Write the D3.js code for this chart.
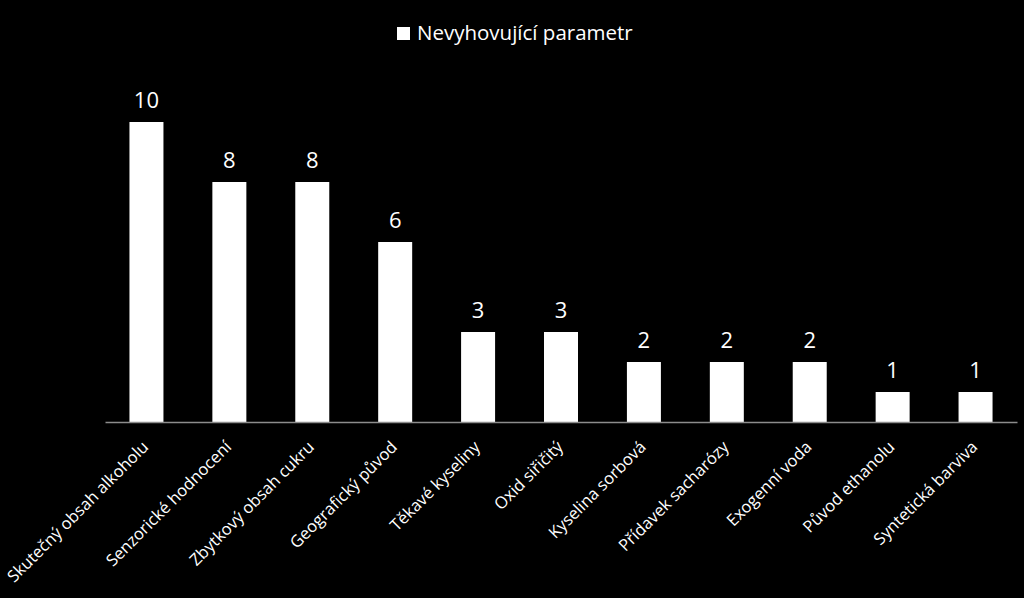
<!DOCTYPE html>
<html><head><meta charset="utf-8">
<script src="https://cdn.jsdelivr.net/npm/d3@7"></script>
<style>html,body{margin:0;padding:0;background:#000;}svg{display:block;}</style>
</head><body>
<svg id="c" width="1024" height="598"></svg>
<script>
const categories = ["Skutečný obsah alkoholu","Senzorické hodnocení","Zbytkový obsah cukru","Geografický původ","Těkavé kyseliny","Oxid siřičitý","Kyselina sorbová","Přídavek sacharózy","Exogenní voda","Původ ethanolu","Syntetická barviva"];
const values = [10,8,8,6,3,3,2,2,2,1,1];
const seriesName = "Nevyhovující parametr";

const font = "'Open Sans', sans-serif";
const svg = d3.select("#c");
svg.append("rect").attr("width",1024).attr("height",598).attr("fill","#000");

const x = d3.scaleBand().domain(categories).range([105,1017]).paddingInner(0.59).paddingOuter(0.295);
const y = d3.scaleLinear().domain([0,10]).range([422,122]);

svg.selectAll("rect.bar").data(values).enter().append("rect")
  .attr("class","bar")
  .attr("x",(d,i)=>x(categories[i]))
  .attr("width",x.bandwidth())
  .attr("y",d=>y(d))
  .attr("height",d=>y(0)-y(d))
  .attr("fill","#fff");

svg.selectAll("text.val").data(values).enter().append("text")
  .attr("class","val")
  .attr("x",(d,i)=>x(categories[i])+x.bandwidth()/2)
  .attr("y",d=>y(d)-14)
  .attr("text-anchor","middle")
  .attr("fill","#fff")
  .attr("font-family",font)
  .attr("font-size",22)
  .text(d=>d);

const axis = d3.axisBottom(x).tickSize(0).tickPadding(0);
const g = svg.append("g").attr("transform","translate(0,422)").call(axis);
g.select(".domain").attr("stroke","#8c8c8c").attr("stroke-width",1.5);
g.selectAll(".tick text")
  .attr("fill","#fff")
  .attr("font-family",font)
  .attr("font-size",16.5)
  .attr("text-anchor","end")
  .attr("dy",0)
  .attr("transform","translate(3,26) rotate(-45)");

// legend
svg.append("rect").attr("x",397).attr("y",27).attr("width",13).attr("height",13).attr("fill","#fff");
svg.append("text").attr("x",417).attr("y",40).attr("fill","#fff")
  .attr("font-family",font).attr("font-size",20.5).text(seriesName);
</script>
</body></html>
